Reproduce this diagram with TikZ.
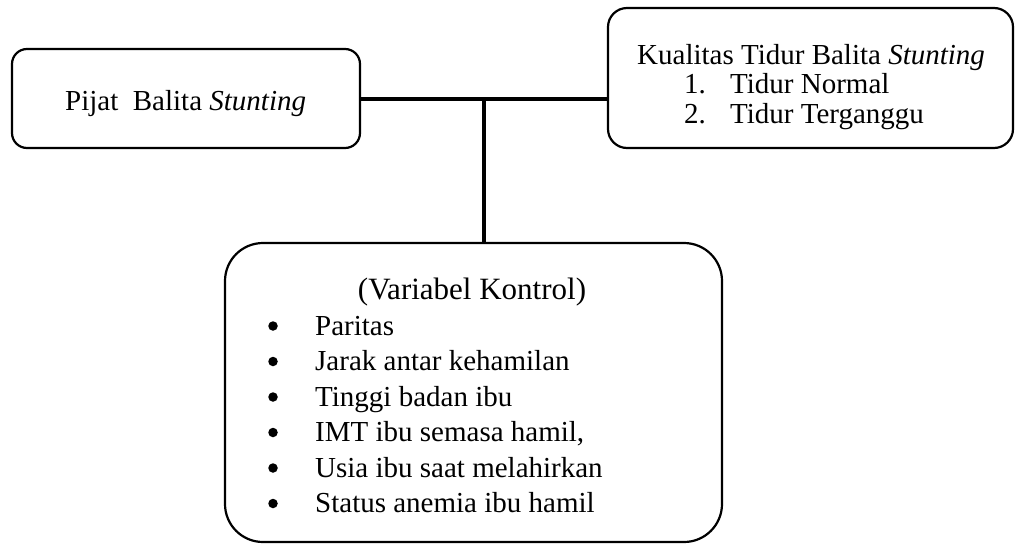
\documentclass[tikz,border=0pt]{standalone}
\usepackage{fontspec}
\setmainfont{Liberation Serif}
\begin{document}
\begin{tikzpicture}[x=1pt,y=-1pt,
  box/.style={draw,line width=2.2pt,rectangle,inner sep=0pt,outer sep=0pt},
  txt/.style={anchor=base west,inner sep=0pt,font=\fontsize{29}{35}\selectfont},
  head/.style={anchor=base,inner sep=0pt,font=\fontsize{31}{36}\selectfont},
  dot/.style={circle,fill,inner sep=0pt,minimum size=9.5pt},
  link/.style={line width=3.4pt}]
\useasboundingbox (0,0) rectangle (1016,544);
% boxes
\node[box,rounded corners=15pt,minimum width=348pt,minimum height=99pt] (left) at (186,98.5) {};
\node[box,rounded corners=19pt,minimum width=405pt,minimum height=140pt] (right) at (810.5,78) {};
\node[box,rounded corners=38pt,minimum width=497pt,minimum height=299pt] (bottom) at (473.5,392.5) {};
% texts
\node[txt] (lt) at (65,110) {Pijat\ \ Balita \textit{Stunting}};
\node[txt] (r1) at (637,64) {Kualitas Tidur Balita \textit{Stunting}};
\node[txt] (r2n) at (684,93) {1.};
\node[txt] (r2) at (730,93) {Tidur Normal};
\node[txt] (r3n) at (684,123) {2.};
\node[txt] (r3) at (730,123) {Tidur Terganggu};
\node[head] (bh) at (472,299) {(Variabel Kontrol)};
\foreach \i/\t in {0/Paritas,1/Jarak antar kehamilan,2/Tinggi badan ibu,3/{IMT ibu semasa hamil,},4/Usia ibu saat melahirkan,5/Status anemia ibu hamil}{
  \node[dot] (b\i) at (273,326+35.5*\i) {};
  \node[txt] (t\i) at (315,335+35.5*\i) {\t};
}
% connectors
\coordinate (j) at (484,99);
\draw[link] (left.east |- j) -- (right.west |- j);
\draw[link] (j) -- (j |- bottom.north);
\end{tikzpicture}
\end{document}
